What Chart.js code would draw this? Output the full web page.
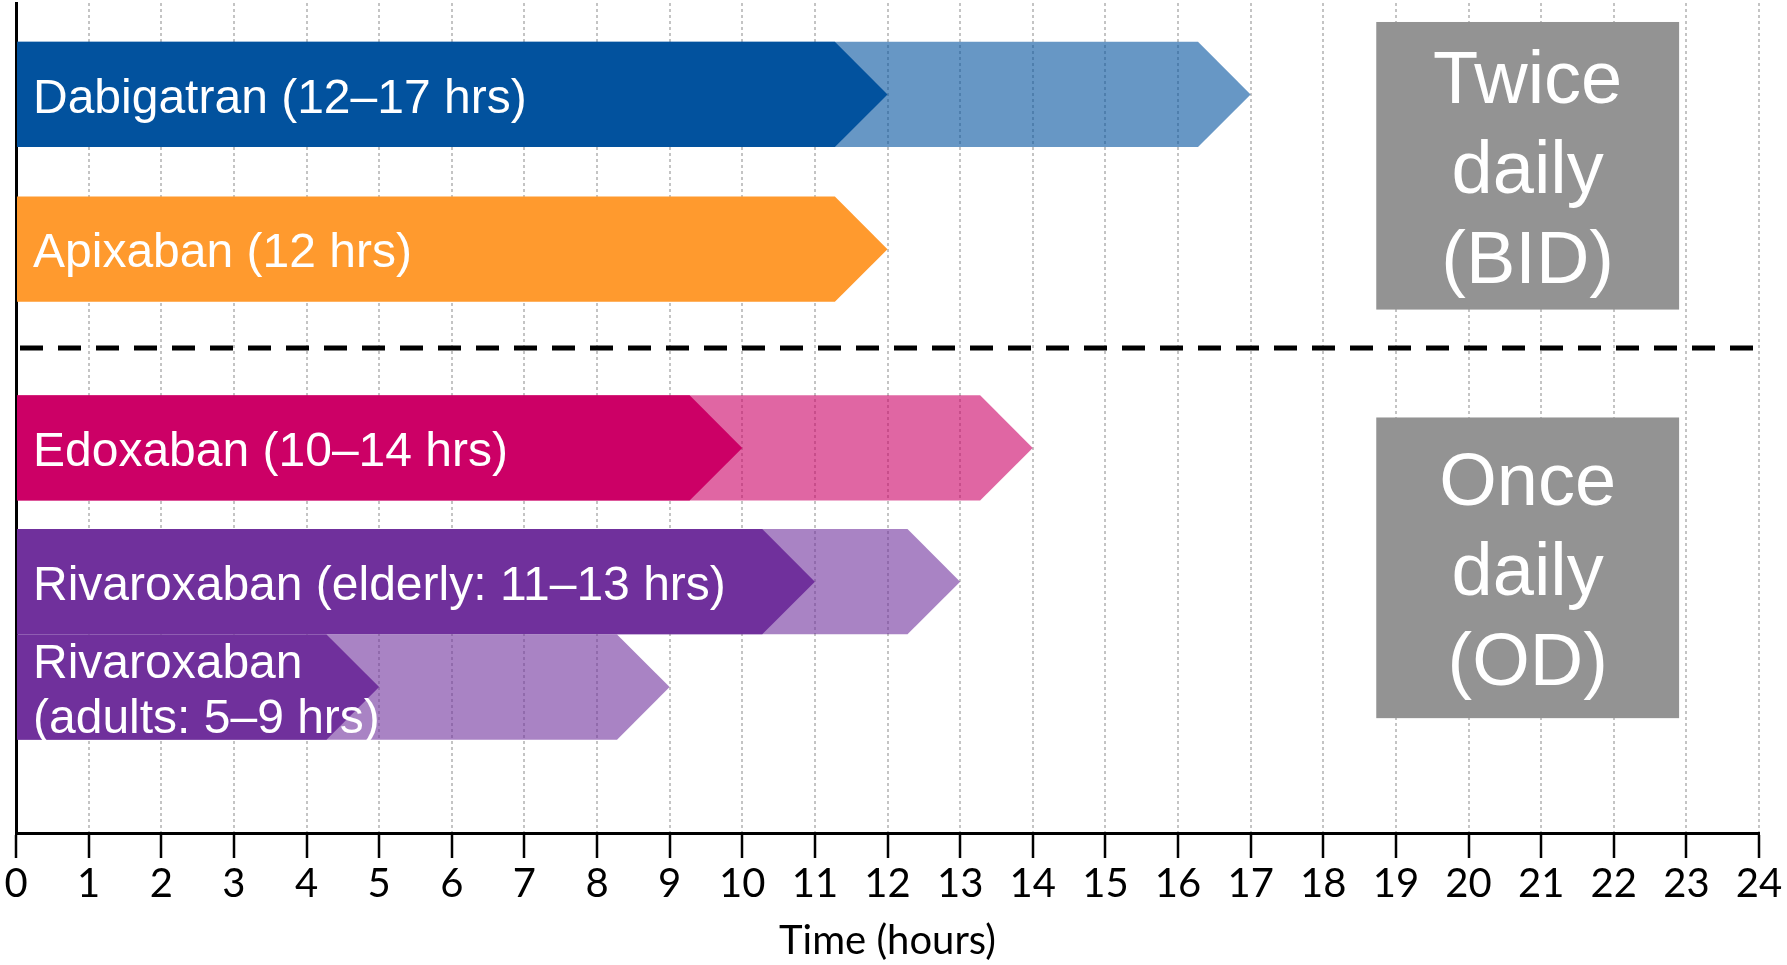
<!DOCTYPE html>
<html>
<head>
<meta charset="utf-8">
<title>Half-life of oral anticoagulants</title>
<script src="https://cdn.jsdelivr.net/npm/chart.js@4.4.1/dist/chart.umd.min.js"></script>
<style>
  html, body { margin: 0; padding: 0; background: #ffffff; }
  #wrap { position: relative; width: 1787px; height: 965px; }
</style>
</head>
<body>
<div id="wrap"><canvas id="halfLifeChart"></canvas></div>
<script>
// Half-life ranges (hours)
const drugs = ['Dabigatran', 'Apixaban', 'Edoxaban', 'Rivaroxaban (elderly)', 'Rivaroxaban (adults)'];
const halfLifeMin = [12, 12, 10, 11, 5];
const halfLifeMax = [17, 12, 14, 13, 9];
const barLabels = [
    ['Dabigatran (12–17 hrs)'],
    ['Apixaban (12 hrs)'],
    ['Edoxaban (10–14 hrs)'],
    ['Rivaroxaban (elderly: 11–13 hrs)'],
    ['Rivaroxaban', '(adults: 5–9 hrs)']
];
const dosingGroups = [['Twice', 'daily', '(BID)'], ['Once', 'daily', '(OD)']];
const timeRange = [0, 24];

// Layout (row units on the vertical axis, hours on the horizontal one)
const rowCentre = [0.881, 2.373, 4.288, 5.578, 6.593];
const BAR_SPAN = 1.014;
const separatorRow = 3.325;
const groupBoxes = [
    { x0: 18.73, x1: 22.9, y0: 0.183, y1: 2.955 },
    { x0: 18.73, x1: 22.9, y0: 3.995, y1: 6.893 }
];

const darkColors = ['#02529E', '#FF9A2E', '#CC0066', '#70309C', '#70309C'];
const lightColors = ['rgba(2, 82, 158, 0.6)', null, 'rgba(204, 0, 102, 0.6)', 'rgba(112, 48, 156, 0.6)', 'rgba(112, 48, 156, 0.6)'];

const shortData = drugs.map((d, i) => ({ x: [0, halfLifeMin[i]], y: rowCentre[i] }));
const longIdx = drugs.map((d, i) => i).filter(i => halfLifeMax[i] > halfLifeMin[i]);
const longData = longIdx.map(i => ({ x: [0, halfLifeMax[i]], y: rowCentre[i] }));

// Bars are drawn as chevron arrows pointing at the end value
const arrowBars = {
    id: 'arrowBars',
    beforeDatasetDraw(chart, args) {
        const { ctx, scales: { y } } = chart;
        const ds = chart.data.datasets[args.index];
        const half = Math.abs(y.getPixelForValue(BAR_SPAN / 2) - y.getPixelForValue(0));
        args.meta.data.forEach((bar, i) => {
            const tip = bar.x, base = bar.base;
            const top = bar.y - half, bottom = bar.y + half;
            ctx.save();
            ctx.fillStyle = ds.backgroundColor[i];
            ctx.beginPath();
            ctx.moveTo(base, top);
            ctx.lineTo(tip - half, top);
            ctx.lineTo(tip, bar.y);
            ctx.lineTo(tip - half, bottom);
            ctx.lineTo(base, bottom);
            ctx.closePath();
            ctx.fill();
            ctx.restore();
        });
        return false;
    }
};

const annotations = {
    id: 'annotations',
    afterDatasetsDraw(chart) {
        const { ctx, scales: { x, y } } = chart;
        ctx.save();

        // dashed divider between BID and OD drugs
        ctx.strokeStyle = '#000';
        ctx.lineWidth = 5;
        ctx.setLineDash([23, 15]);
        ctx.beginPath();
        ctx.moveTo(x.getPixelForValue(timeRange[0]) + 4, y.getPixelForValue(separatorRow));
        ctx.lineTo(x.getPixelForValue(timeRange[1]), y.getPixelForValue(separatorRow));
        ctx.stroke();
        ctx.setLineDash([]);

        // bar labels
        ctx.fillStyle = '#fff';
        ctx.font = '48px "Liberation Sans", Arial, sans-serif';
        ctx.textAlign = 'left';
        ctx.textBaseline = 'middle';
        const meta = chart.getDatasetMeta(0);
        meta.data.forEach((bar, i) => {
            const lines = barLabels[i];
            const lh = 55;
            lines.forEach((t, k) => {
                ctx.fillText(t, x.getPixelForValue(0) + 17, bar.y + (k - (lines.length - 1) / 2) * lh + 5);
            });
        });

        // dosing boxes
        ctx.font = '74px "Liberation Sans", Arial, sans-serif';
        ctx.textAlign = 'center';
        groupBoxes.forEach((b, g) => {
            const left = x.getPixelForValue(b.x0), right = x.getPixelForValue(b.x1);
            const top = y.getPixelForValue(b.y0), bottom = y.getPixelForValue(b.y1);
            ctx.fillStyle = '#939393';
            ctx.fillRect(left, top, right - left, bottom - top);
            ctx.fillStyle = '#fff';
            const lines = dosingGroups[g];
            const cx = (left + right) / 2, cy = (top + bottom) / 2;
            lines.forEach((t, k) => {
                ctx.fillText(t, cx, cy + (k - 1) * 90 + 7);
            });
        });
        ctx.restore();
    }
};

const ctx = document.getElementById('halfLifeChart').getContext('2d');
const halfLifeChart = new Chart(ctx, {
    type: 'bar',
    data: {
        datasets: [
            {
                label: 'Half-life (lower)',
                data: shortData,
                backgroundColor: darkColors,
                grouped: false,
                order: 0
            },
            {
                label: 'Half-life (upper)',
                data: longData,
                backgroundColor: longIdx.map(i => lightColors[i]),
                grouped: false,
                order: 1
            }
        ]
    },
    options: {
        indexAxis: 'y',
        responsive: true,
        maintainAspectRatio: false,
        animation: false,
        layout: { padding: { left: 16, right: 28, top: 3, bottom: 0 } },
        scales: {
            x: {
                type: 'linear',
                position: 'bottom',
                min: timeRange[0],
                max: timeRange[1],
                ticks: {
                    stepSize: 1,
                    autoSkip: false,
                    maxRotation: 0,
                    padding: 2,
                    color: '#000',
                    font: { family: 'Lato', size: 40 }
                },
                grid: {
                    color: '#C4C4C4',
                    lineWidth: 2,
                    tickLength: 25,
                    tickColor: '#000',
                    tickWidth: 2.5,
                    tickBorderDash: []
                },
                border: { display: true, color: '#000', width: 3, dash: [3, 3] },
                title: {
                    display: true,
                    text: 'Time (hours)',
                    color: '#000',
                    font: { family: 'Lato', size: 40 },
                    padding: { top: 7, bottom: 0 }
                }
            },
            y: {
                type: 'linear',
                min: 0,
                max: 8,
                reverse: true,
                offset: false,
                ticks: { display: false },
                grid: { display: false, drawTicks: false, tickLength: 0, offset: false },
                border: { display: true, color: '#000', width: 3 }
            }
        },
        plugins: {
            legend: { display: false },
            tooltip: { enabled: false }
        }
    },
    plugins: [arrowBars, annotations]
});
</script>
</body>
</html>
